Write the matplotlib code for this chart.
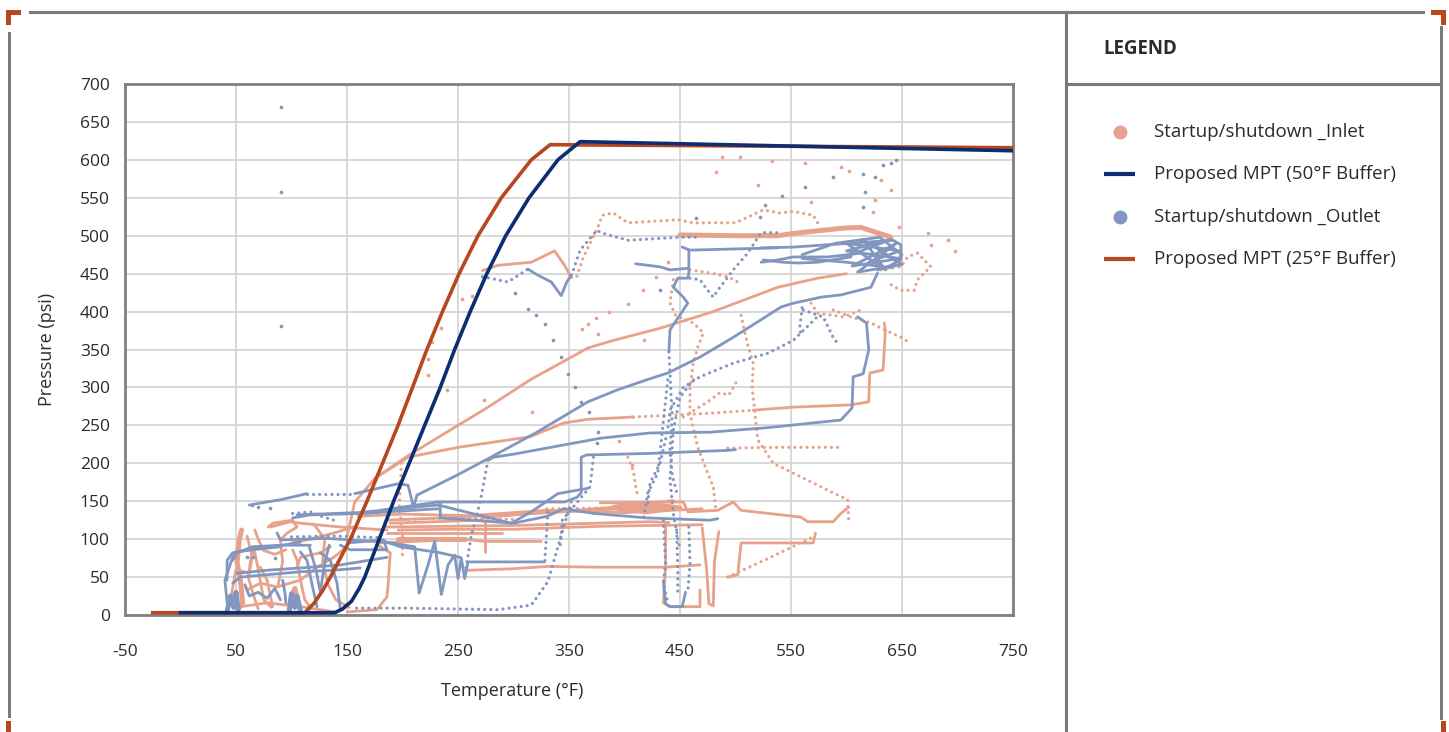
import matplotlib
matplotlib.use("Agg")
import matplotlib.pyplot as plt
from matplotlib.patches import Rectangle

plt.rcParams['font.family'] = ['Open Sans', 'DejaVu Sans']
plt.rcParams['axes.unicode_minus'] = False

# ---------------------------------------------------------------------------
# Data (temperature F, pressure psi)
# ---------------------------------------------------------------------------
mpt50_t = [0, 139, 146, 154, 161, 166, 179, 192, 206, 220, 234, 247, 261, 276, 293, 314, 340, 360, 750]
mpt50_p = [3, 3, 8, 18, 35, 50, 100, 150, 200, 250, 300, 350, 400, 450, 500, 550, 600, 624, 612]

mpt25_t = [-25, 112, 120, 128, 135, 153, 168, 182, 196, 209, 222, 236, 251, 268, 289, 316, 333, 750]
mpt25_p = [3, 3, 15, 32, 50, 100, 150, 200, 250, 300, 350, 400, 450, 500, 550, 600, 620, 616]

# inlet traces that read as continuous lines
inlet_lines = [
    [(150, 103), (157, 149), (175, 180), (205, 210), (250, 250), (276, 273), (315, 310),
     (367, 352), (390, 362), (432, 378), (480, 400), (538, 432), (574, 444), (600, 450)],
    [(175, 180), (205, 208), (250, 221), (315, 235), (345, 253), (367, 258), (408, 261)],
    [(516, 270), (552, 274), (604, 277), (620, 281), (621, 319), (633, 323), (635, 375), (634, 385)],
    [(378, 148), (453, 149), (457, 136), (484, 138), (498, 149), (505, 138), (529, 134),
     (559, 129), (565, 123), (588, 123), (595, 134), (602, 142)],
    [(189, 121), (270, 125), (276, 129), (390, 142), (444, 151)],
    [(186, 108), (270, 108), (290, 108)],
    [(186, 116), (300, 118), (423, 123), (440, 122)],
    [(186, 125), (236, 128), (318, 134), (423, 142)],
    [(160, 130), (200, 133), (260, 131), (330, 138), (400, 135), (470, 140)],
    [(196, 112), (240, 113), (300, 113), (380, 117), (470, 119)],
    [(259, 59), (300, 61), (330, 64), (378, 63), (437, 63), (468, 66)],
    [(180, 95), (255, 100), (274, 97), (325, 97)],
    [(274, 83), (274, 122)],
    [(437, 121), (437, 63), (435, 16), (441, 11), (468, 11), (468, 33)],
    [(470, 115), (474, 60), (476, 15), (480, 12), (481, 70), (485, 110)],
    [(493, 50), (502, 53), (505, 95), (570, 95), (572, 108)],
    [(178, 92), (189, 82), (187, 40), (186, 24), (177, 7), (150, 4)],
    [(79, 116), (83, 121), (101, 125), (105, 116), (96, 108), (90, 99), (92, 70), (88, 40)],
    [(60, 33), (72, 42), (87, 37), (108, 46), (123, 63), (138, 76), (150, 90)],
    [(81, 116), (99, 123), (108, 121), (144, 116), (186, 112)],
    [(54, 11), (78, 16), (108, 11), (126, 7), (140, 4)],
    [(45, 20), (50, 60), (62, 55), (66, 90), (70, 60), (75, 20), (82, 10)],
    [(100, 95), (114, 99), (138, 108), (156, 116)],
    [(105, 63), (108, 76), (126, 82), (135, 90)],
    [(72, 63), (78, 46), (83, 11)],
    [(101, 86), (105, 72), (108, 46), (112, 20), (118, 8)],
    [(60, 104), (64, 80), (61, 50), (66, 25), (70, 8)],
    [(67, 112), (70, 100), (75, 85), (85, 80), (95, 86)],
    [(120, 120), (130, 100), (128, 70), (133, 40), (140, 20), (152, 10)],
    [(272, 454), (286, 461), (316, 465), (337, 480), (346, 461), (352, 445)],
]
# thick inlet strokes
inlet_thick = [
    [(450, 501), (500, 500), (538, 500), (552, 503), (597, 510), (613, 511), (640, 498)],
    [(55, 112), (53, 100), (51, 69), (54, 46), (56, 16), (52, 8)],
    [(390, 142), (410, 146), (440, 140), (420, 136), (395, 140), (430, 145), (450, 141)],
    [(196, 100), (256, 100)],
    [(98, 8), (100, 25), (103, 35), (105, 20)],
]
# inlet traces that read as dotted lines
inlet_dotted = [
    [(352, 445), (357, 446), (363, 472), (376, 511), (380, 527), (390, 530), (403, 517),
     (448, 521), (462, 517), (500, 517), (525, 534), (540, 530), (552, 532), (570, 527), (574, 517)],
    [(408, 261), (478, 266), (516, 270)],
    [(505, 395), (511, 356), (516, 332), (515, 300), (520, 231), (534, 200), (559, 182),
     (588, 161), (601, 152), (602, 125)],
    [(493, 220), (540, 221), (592, 221)],
    [(493, 50), (530, 75), (570, 103)],
    [(199, 200), (198, 170), (197, 140), (200, 110), (200, 72)],
    [(631, 455), (649, 459), (655, 472), (664, 477), (676, 459), (670, 451), (664, 442),
     (661, 428), (649, 428), (637, 438)],
    [(568, 411), (574, 398), (597, 393), (613, 402)],
    [(588, 402), (604, 393), (622, 385), (634, 376), (649, 366), (658, 358)],
    [(444, 442), (441, 411), (446, 395), (462, 385), (471, 372), (466, 353), (462, 332),
     (459, 300), (459, 266), (466, 221), (475, 187), (480, 169), (482, 142)],
    [(459, 455), (477, 451), (493, 446), (502, 439)],
    [(403, 208), (408, 190), (410, 170), (412, 155)],
    [(453, 261), (477, 283), (486, 293), (494, 290), (498, 300), (502, 310)],
    [(330, 140), (380, 141), (430, 140)],
    [(200, 126), (250, 128), (300, 126)],
]
inlet_dots_t = [254, 263, 235, 227, 223, 223, 240, 273, 317, 417, 403, 386, 374, 367, 362,
                376, 418, 395, 407, 439, 428, 488, 504, 533, 563, 595, 631, 482, 520, 626,
                568, 624, 647, 673, 691, 676, 698, 602, 640]
inlet_dots_p = [416, 420, 379, 360, 338, 316, 297, 283, 268, 428, 410, 400, 392, 384, 377,
                370, 362, 229, 198, 465, 445, 604, 604, 598, 596, 591, 573, 584, 567, 547,
                544, 531, 511, 504, 494, 488, 480, 585, 560]

# outlet traces that read as continuous lines
outlet_lines = [
    [(62, 145), (90, 152), (114, 160)],
    [(157, 160), (196, 173), (205, 171), (210, 142), (213, 158), (250, 185), (277, 206),
     (320, 240), (367, 281), (394, 297), (420, 310), (439, 319), (468, 340),
     (498, 366), (541, 406), (552, 411), (577, 419), (595, 422), (622, 432), (628, 451)],
    [(277, 204), (282, 208), (300, 212), (367, 230), (378, 233), (423, 240), (477, 241),
     (529, 247), (595, 257), (605, 273), (606, 314), (615, 318), (620, 349), (618, 385), (610, 393)],
    [(180, 138), (232, 149), (346, 149), (357, 155), (361, 161), (361, 208),
     (366, 211), (423, 213), (493, 217), (500, 218)],
    [(232, 145), (298, 121), (316, 136), (340, 160), (367, 167)],
    [(234, 148), (234, 128), (300, 121), (330, 130), (345, 140), (372, 134),
     (420, 128), (477, 125), (484, 127)],
    [(184, 96), (211, 90), (215, 29), (223, 66), (229, 97), (235, 27), (241, 66), (247, 79),
     (250, 48), (253, 75), (256, 48), (259, 70), (300, 70), (328, 70)],
    [(42, 16), (40, 46), (47, 76), (51, 83), (65, 86), (90, 90)],
    [(47, 42), (54, 50), (108, 57), (138, 59), (162, 62)],
    [(47, 72), (51, 82), (65, 90), (92, 92), (108, 96)],
    [(42, 46), (42, 72), (47, 82), (60, 86), (90, 92), (117, 92)],
    [(51, 55), (78, 59), (108, 62), (144, 66), (186, 76)],
    [(150, 95), (183, 99), (186, 86), (153, 86), (144, 92)],
    [(87, 108), (90, 99), (132, 101), (186, 96)],
    [(101, 128), (117, 132), (168, 134), (186, 136), (232, 140)],
    [(105, 132), (160, 135), (232, 145)],
    [(180, 99), (198, 90), (234, 82), (252, 76)],
    [(116, 90), (122, 60), (126, 30), (130, 70), (134, 92)],
    [(108, 83), (114, 72), (119, 37), (123, 11)],
    [(126, 82), (135, 72), (141, 42), (144, 7)],
    [(92, 46), (94, 30), (95, 16)],
    [(58, 40), (62, 25), (70, 30), (78, 22), (85, 35), (90, 20)],
    [(313, 456), (322, 448), (334, 439), (343, 421), (348, 439), (352, 448)],
    [(523, 484), (552, 485), (642, 494), (649, 488), (649, 468), (637, 459), (628, 455)],
    [(523, 465), (538, 468), (552, 472), (583, 472), (613, 477)],
    [(452, 485), (459, 481), (538, 484)],
    [(458, 481), (458, 451), (457, 444), (448, 444), (444, 432), (453, 419), (457, 411),
     (441, 376), (440, 347)],
    [(410, 463), (432, 459), (441, 455), (457, 457)],
    [(525, 468), (543, 465), (556, 464), (574, 465), (604, 472)],
    [(595, 470), (640, 495), (600, 480), (648, 470), (605, 460), (645, 490), (610, 452),
     (650, 462), (615, 495), (635, 455), (600, 490), (648, 480), (620, 465)],
    [(560, 470), (600, 465), (640, 458), (650, 475), (630, 498), (590, 490), (560, 475)],
    [(435, 45), (437, 15), (441, 11), (452, 11), (455, 30)],
]
outlet_thick = [
    [(42, 5), (45, 25), (48, 10), (50, 30), (52, 8)],
    [(98, 5), (100, 28), (103, 10), (105, 25), (108, 6)],
]
# outlet traces that read as dotted lines
outlet_dotted = [
    [(114, 160), (157, 160)],
    [(277, 204), (270, 149), (262, 105), (257, 61)],
    [(352, 149), (343, 105), (331, 44), (316, 13), (286, 7), (205, 9), (154, 9)],
    [(331, 136), (328, 66)],
    [(372, 208), (369, 169), (344, 125), (342, 90)],
    [(439, 310), (430, 187), (421, 161), (417, 125)],
    [(462, 310), (450, 287), (444, 244), (441, 178), (444, 134), (450, 86)],
    [(435, 125), (437, 68), (435, 42), (439, 16)],
    [(447, 112), (448, 60), (448, 24)],
    [(458, 116), (459, 68), (457, 29)],
    [(421, 148), (423, 174), (432, 200), (439, 244), (441, 270), (453, 300), (468, 314),
     (498, 332), (529, 345), (552, 362), (575, 395)],
    [(440, 347), (442, 290), (443, 264), (441, 217), (443, 184), (447, 162)],
    [(459, 444), (468, 442), (475, 428), (480, 419), (484, 428), (498, 455), (511, 477),
     (523, 504), (538, 504)],
    [(352, 448), (354, 455), (360, 481), (375, 507), (381, 503), (403, 494),
     (450, 498), (468, 498)],
    [(272, 446), (295, 439), (313, 456)],
    [(561, 402), (579, 393), (588, 366), (592, 358)],
    [(560, 405), (558, 380), (559, 366)],
    [(101, 134), (120, 136), (123, 132), (138, 125)],
    [(100, 103), (140, 104), (180, 102)],
]
outlet_dots_t = [90.5, 90.5, 90.5, 633, 640, 645, 615, 626, 617, 563, 588, 542, 527, 464,
                 522, 615, 301, 313, 320, 328, 336, 343, 349, 355, 361, 368, 376, 375, 432,
                 64, 70, 81, 60, 65, 85]
outlet_dots_p = [670, 558, 381, 593, 596, 600, 582, 577, 558, 564, 577, 553, 540, 523,
                 525, 538, 425, 404, 395, 384, 362, 340, 318, 300, 281, 268, 241, 227, 428,
                 145, 143, 141, 76, 76, 75]

# ---------------------------------------------------------------------------
C_IN = '#E8A18A'
C_OUT = '#8197BF'
C_50 = '#0B2D72'
C_25 = '#B8461E'
C_TXT = '#2B2B2B'
C_FRAME = '#7A7A7A'

fig = plt.figure(figsize=(14.49, 7.32), dpi=100)
W, H = 1449, 732

ax = fig.add_axes([125 / W, 1 - 615 / H, 888 / W, 531 / H])


def draw(traces, color, **kw):
    for tr in traces:
        ts = [p[0] for p in tr]
        ps = [p[1] for p in tr]
        ax.plot(ts, ps, color=color, solid_capstyle='round', solid_joinstyle='round', **kw)


dot_style = dict(lw=2.3, ls=(0, (0.01, 1.9)), dash_capstyle='round')

draw(inlet_lines, C_IN, lw=2.0, zorder=2)
draw(inlet_thick, C_IN, lw=3.6, zorder=2)
draw(inlet_dotted, C_IN, zorder=2, **dot_style)
ax.scatter(inlet_dots_t, inlet_dots_p, s=7, color=C_IN, lw=0, zorder=2)

draw(outlet_lines, C_OUT, lw=2.0, zorder=3)
draw(outlet_thick, C_OUT, lw=3.6, zorder=3)
draw(outlet_dotted, C_OUT, zorder=3, **dot_style)
ax.scatter(outlet_dots_t, outlet_dots_p, s=7, color=C_OUT, lw=0, zorder=3)

ax.plot(mpt50_t, mpt50_p, color=C_50, lw=2.6, zorder=5, solid_joinstyle='round')
ax.plot(mpt25_t, mpt25_p, color=C_25, lw=2.6, zorder=4, solid_joinstyle='round')

ax.set_xlim(-50, 750)
ax.set_ylim(0, 700)
ax.set_xticks(range(-50, 751, 100))
ax.set_yticks(range(0, 701, 50))
ax.grid(True, color='#D6D6D6', lw=1.3)
ax.set_axisbelow(True)
for s in ax.spines.values():
    s.set_color('#808080')
    s.set_linewidth(2.0)
ax.tick_params(length=0, labelsize=12.5, colors=C_TXT)
ax.tick_params(axis='x', pad=21)
ax.tick_params(axis='y', pad=11)
ax.set_xlabel('Temperature (°F)', fontsize=13, color=C_TXT)
ax.set_ylabel('Pressure (psi)', fontsize=13, color=C_TXT)
ax.xaxis.set_label_coords((512 - 125) / 888, (615 - 682) / 531)
ax.yaxis.set_label_coords((56 - 125) / 888, 0.5)

# overlay in pixel coordinates for the frame and legend panel
ov = fig.add_axes([0, 0, 1, 1], zorder=-1)
ov.set_xlim(0, W)
ov.set_ylim(H, 0)
ov.axis('off')
ov.patch.set_alpha(0)

ov.plot([30, 1423], [12, 12], color=C_FRAME, lw=2.2)
ov.plot([9, 9], [33, 716], color=C_FRAME, lw=2.2)
ov.plot([1441, 1441], [27, 718], color=C_FRAME, lw=2.2)
ov.plot([1066, 1066], [12, 732], color=C_FRAME, lw=2.2)
ov.plot([1066, 1441], [84, 84], color=C_FRAME, lw=2.2)

for x0, y0, w, h in [(6, 10, 15, 5), (6, 10, 5, 15), (1431, 10, 15, 5), (1441, 10, 5, 15),
                     (6, 721, 5, 11), (1441, 721, 5, 11)]:
    ov.add_patch(Rectangle((x0, y0), w, h, color=C_25, lw=0))

ov.text(1103, 49, 'LEGEND', fontsize=13.5, fontweight='bold', color=C_TXT,
        va='center', ha='left')

legend_rows = [('Startup/shutdown _Inlet', 'dot', C_IN, 132),
               ('Proposed MPT (50°F Buffer)', 'line', C_50, 174),
               ('Startup/shutdown _Outlet', 'dot', C_OUT, 217),
               ('Proposed MPT (25°F Buffer)', 'line', C_25, 259)]
for label, kind, col, y in legend_rows:
    if kind == 'dot':
        ov.plot([1119.5], [y], 'o', ms=10, color=col, mew=0)
    else:
        ov.plot([1104, 1135], [y, y], color=col, lw=3, solid_capstyle='butt')
    ov.text(1154, y, label, fontsize=13.5, color=C_TXT, va='center', ha='left')

fig.savefig('out.png', dpi=100)
